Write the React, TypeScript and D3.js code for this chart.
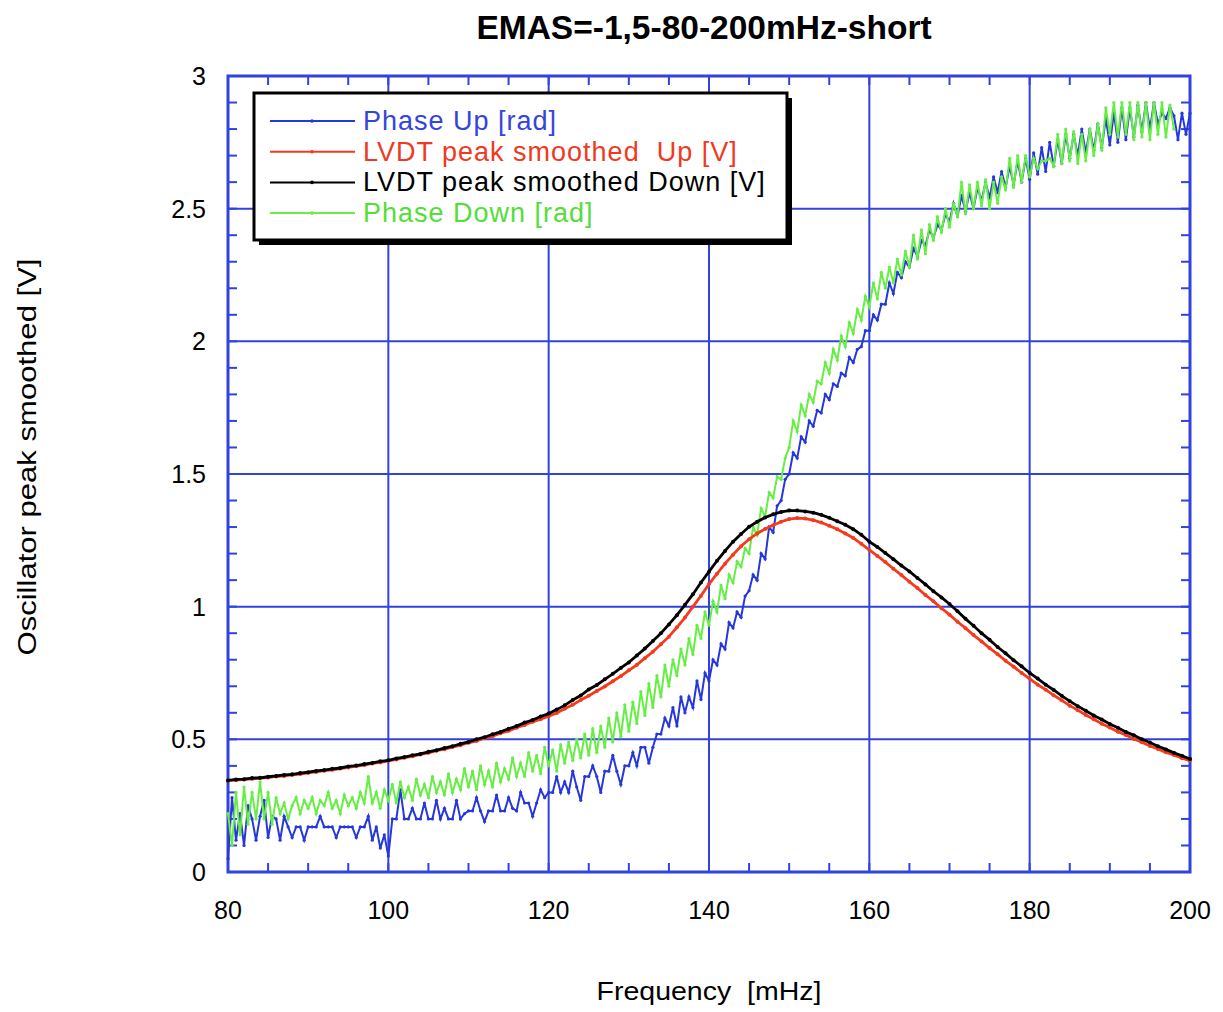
import React, { useRef, useEffect } from "react";
import * as d3 from "d3";

// frequencies for the LVDT curves (1 mHz step)
const lvdtFreq = d3.range(80, 200.01, 1);

const lvdtDown = [
  0.345, 0.349, 0.350, 0.354, 0.355, 0.359, 0.362, 0.366, 0.368, 0.373,
  0.376, 0.381, 0.384, 0.389, 0.392, 0.398, 0.401, 0.407, 0.411, 0.417,
  0.421, 0.428, 0.433, 0.440, 0.445, 0.453, 0.459, 0.467, 0.474, 0.483,
  0.490, 0.500, 0.508, 0.519, 0.528, 0.540, 0.550, 0.563, 0.573, 0.586,
  0.597, 0.612, 0.628, 0.648, 0.665, 0.688, 0.705, 0.726, 0.747, 0.769,
  0.790, 0.816, 0.842, 0.871, 0.900, 0.933, 0.968, 1.007, 1.047, 1.091,
  1.132, 1.173, 1.210, 1.245, 1.274, 1.301, 1.320, 1.336, 1.348, 1.357,
  1.362, 1.362, 1.359, 1.354, 1.346, 1.335, 1.322, 1.309, 1.292, 1.271,
  1.245, 1.225, 1.202, 1.179, 1.155, 1.133, 1.108, 1.084, 1.058, 1.035,
  1.010, 0.983, 0.954, 0.928, 0.900, 0.875, 0.848, 0.824, 0.798, 0.775,
  0.750, 0.729, 0.706, 0.686, 0.664, 0.644, 0.625, 0.608, 0.590, 0.575,
  0.558, 0.544, 0.528, 0.515, 0.500, 0.488, 0.474, 0.462, 0.449, 0.438,
  0.426,
];

const lvdtUp = [
  0.345, 0.346, 0.349, 0.351, 0.354, 0.356, 0.360, 0.362, 0.366, 0.369,
  0.374, 0.377, 0.382, 0.385, 0.390, 0.394, 0.399, 0.403, 0.409, 0.413,
  0.419, 0.424, 0.431, 0.436, 0.443, 0.449, 0.457, 0.463, 0.471, 0.478,
  0.487, 0.494, 0.504, 0.512, 0.523, 0.532, 0.544, 0.554, 0.566, 0.576,
  0.587, 0.599, 0.615, 0.630, 0.648, 0.664, 0.682, 0.699, 0.719, 0.738,
  0.760, 0.781, 0.806, 0.830, 0.858, 0.887, 0.922, 0.959, 1.000, 1.041,
  1.085, 1.124, 1.162, 1.196, 1.228, 1.254, 1.276, 1.293, 1.307, 1.320,
  1.330, 1.334, 1.332, 1.326, 1.317, 1.305, 1.292, 1.276, 1.259, 1.237,
  1.214, 1.191, 1.168, 1.143, 1.119, 1.094, 1.070, 1.044, 1.020, 0.994,
  0.970, 0.943, 0.919, 0.893, 0.869, 0.844, 0.821, 0.796, 0.774, 0.750,
  0.728, 0.706, 0.687, 0.666, 0.647, 0.627, 0.610, 0.592, 0.576, 0.559,
  0.545, 0.529, 0.516, 0.501, 0.489, 0.475, 0.464, 0.451, 0.441, 0.429,
  0.420,
];

// phase curves sampled every 0.5 mHz
const phaseUpFreq = d3.range(80, 200.01, 0.5);
const phaseUp = [
  0.05, 0.28, 0.12, 0.22, 0.10, 0.25, 0.20, 0.12, 0.21, 0.27,
  0.13, 0.21, 0.20, 0.12, 0.21, 0.17, 0.13, 0.17, 0.17, 0.12,
  0.17, 0.17, 0.17, 0.21, 0.17, 0.17, 0.17, 0.13, 0.17, 0.17,
  0.17, 0.17, 0.13, 0.17, 0.17, 0.21, 0.12, 0.17, 0.09, 0.14,
  0.06, 0.20, 0.20, 0.31, 0.20, 0.20, 0.24, 0.20, 0.20, 0.26,
  0.20, 0.20, 0.27, 0.20, 0.24, 0.20, 0.20, 0.27, 0.20, 0.22,
  0.23, 0.23, 0.28, 0.23, 0.19, 0.23, 0.23, 0.29, 0.23, 0.23,
  0.28, 0.24, 0.23, 0.30, 0.26, 0.26, 0.21, 0.26, 0.31, 0.28,
  0.30, 0.30, 0.36, 0.30, 0.34, 0.30, 0.38, 0.32, 0.27, 0.36,
  0.36, 0.40, 0.36, 0.30, 0.38, 0.38, 0.44, 0.38, 0.33, 0.40,
  0.40, 0.45, 0.40, 0.47, 0.47, 0.41, 0.47, 0.52, 0.52, 0.58,
  0.55, 0.62, 0.55, 0.66, 0.60, 0.66, 0.62, 0.72, 0.65, 0.75,
  0.72, 0.80, 0.78, 0.86, 0.84, 0.94, 0.92, 0.98, 0.96, 1.04,
  1.06, 1.12, 1.10, 1.20, 1.18, 1.30, 1.28, 1.38, 1.40, 1.48,
  1.50, 1.58, 1.56, 1.64, 1.62, 1.70, 1.68, 1.74, 1.73, 1.80,
  1.78, 1.84, 1.83, 1.88, 1.87, 1.94, 1.92, 1.97, 1.98, 2.04,
  2.04, 2.10, 2.08, 2.14, 2.14, 2.22, 2.18, 2.26, 2.24, 2.30,
  2.28, 2.35, 2.32, 2.38, 2.36, 2.42, 2.39, 2.44, 2.42, 2.48,
  2.45, 2.52, 2.47, 2.55, 2.49, 2.56, 2.50, 2.58, 2.53, 2.60,
  2.54, 2.62, 2.56, 2.64, 2.58, 2.66, 2.59, 2.68, 2.60, 2.69,
  2.61, 2.71, 2.63, 2.73, 2.64, 2.75, 2.66, 2.76, 2.67, 2.78,
  2.69, 2.78, 2.70, 2.80, 2.71, 2.80, 2.72, 2.82, 2.73, 2.84,
  2.74, 2.86, 2.75, 2.88, 2.76, 2.88, 2.77, 2.89, 2.79, 2.90,
  2.80, 2.90, 2.82, 2.86, 2.84, 2.88, 2.85, 2.76, 2.86, 2.78,
  2.86,
];

const phaseDownFreq = d3.range(80, 198.01, 0.5);
const phaseDown = [
  0.22, 0.10, 0.30, 0.14, 0.32, 0.18, 0.30, 0.20, 0.34, 0.20,
  0.30, 0.18, 0.28, 0.22, 0.26, 0.20, 0.25, 0.28, 0.22, 0.27,
  0.24, 0.28, 0.22, 0.27, 0.25, 0.30, 0.24, 0.27, 0.22, 0.29,
  0.25, 0.28, 0.24, 0.30, 0.26, 0.36, 0.26, 0.30, 0.24, 0.31,
  0.27, 0.33, 0.26, 0.34, 0.28, 0.32, 0.27, 0.35, 0.29, 0.33,
  0.28, 0.36, 0.30, 0.34, 0.29, 0.37, 0.30, 0.35, 0.31, 0.39,
  0.32, 0.38, 0.31, 0.40, 0.33, 0.38, 0.32, 0.41, 0.34, 0.39,
  0.35, 0.43, 0.36, 0.41, 0.36, 0.45, 0.38, 0.44, 0.37, 0.47,
  0.40, 0.46, 0.38, 0.48, 0.41, 0.49, 0.42, 0.50, 0.43, 0.52,
  0.44, 0.54, 0.45, 0.55, 0.47, 0.58, 0.49, 0.60, 0.51, 0.63,
  0.53, 0.64, 0.56, 0.68, 0.59, 0.71, 0.62, 0.74, 0.66, 0.78,
  0.70, 0.80, 0.74, 0.84, 0.78, 0.88, 0.82, 0.93, 0.88, 0.98,
  0.93, 1.02, 0.98, 1.08, 1.03, 1.12, 1.09, 1.17, 1.15, 1.22,
  1.20, 1.30, 1.27, 1.37, 1.34, 1.43, 1.41, 1.49, 1.48, 1.56,
  1.60, 1.70, 1.66, 1.76, 1.72, 1.80, 1.77, 1.85, 1.84, 1.92,
  1.88, 1.97, 1.93, 2.02, 1.98, 2.07, 2.03, 2.12, 2.08, 2.17,
  2.13, 2.22, 2.16, 2.26, 2.20, 2.28, 2.22, 2.31, 2.25, 2.34,
  2.28, 2.40, 2.31, 2.42, 2.33, 2.44, 2.38, 2.47, 2.41, 2.50,
  2.43, 2.52, 2.47, 2.60, 2.48, 2.59, 2.50, 2.60, 2.51, 2.61,
  2.50, 2.60, 2.52, 2.62, 2.57, 2.69, 2.58, 2.70, 2.60, 2.70,
  2.62, 2.69, 2.65, 2.68, 2.68, 2.69, 2.66, 2.78, 2.67, 2.80,
  2.68, 2.79, 2.67, 2.78, 2.68, 2.80, 2.70, 2.82, 2.72, 2.88,
  2.78, 2.90, 2.77, 2.90, 2.78, 2.90, 2.76, 2.90, 2.77, 2.90,
  2.76, 2.90, 2.78, 2.90, 2.77, 2.89, 2.80,
];

const xTicks = [80, 100, 120, 140, 160, 180, 200];
const yTicks = [0, 0.5, 1, 1.5, 2, 2.5, 3];

const seriesNames = [
  "Phase Up [rad]",
  "LVDT peak smoothed  Up [V]",
  "LVDT peak smoothed Down [V]",
  "Phase Down [rad]",
];

const AXIS_BLUE = "#3142de";
const FONT = "'Liberation Sans', Arial, Helvetica, sans-serif";

const App = () => {
  const svgRef = useRef(null);

  useEffect(() => {
    const svg = d3.select(svgRef.current);
    svg.selectAll("*").remove();

    const width = 1223;
    const height = 1012;
    const left = 228, right = 1190, top = 76, bottom = 872;

    const x = d3.scaleLinear().domain([80, 200]).range([left, right]);
    const y = d3.scaleLinear().domain([0, 3]).range([bottom, top]);

    svg.attr("width", width).attr("height", height);
    svg.append("rect").attr("width", width).attr("height", height).attr("fill", "white");

    // title
    svg.append("text")
      .attr("x", 704).attr("y", 39)
      .attr("text-anchor", "middle")
      .style("font-family", FONT).style("font-size", "33.5px").style("font-weight", "bold")
      .text("EMAS=-1,5-80-200mHz-short");

    const g = svg.append("g");

    // grid lines at major ticks
    g.selectAll(".gx").data(xTicks).enter().append("line")
      .attr("x1", d => x(d)).attr("x2", d => x(d))
      .attr("y1", top).attr("y2", bottom)
      .attr("stroke", AXIS_BLUE).attr("stroke-width", 2);
    g.selectAll(".gy").data(yTicks).enter().append("line")
      .attr("x1", left).attr("x2", right)
      .attr("y1", d => y(d)).attr("y2", d => y(d))
      .attr("stroke", AXIS_BLUE).attr("stroke-width", 2);

    // minor ticks, inward on all four sides
    const xMinor = d3.range(80, 200.01, 5);
    const yMinor = d3.range(0, 3.001, 0.1);
    const tl = 9;
    xMinor.forEach(v => {
      g.append("line").attr("x1", x(v)).attr("x2", x(v)).attr("y1", bottom).attr("y2", bottom - tl)
        .attr("stroke", AXIS_BLUE).attr("stroke-width", 2);
      g.append("line").attr("x1", x(v)).attr("x2", x(v)).attr("y1", top).attr("y2", top + tl)
        .attr("stroke", AXIS_BLUE).attr("stroke-width", 2);
    });
    yMinor.forEach(v => {
      g.append("line").attr("x1", left).attr("x2", left + tl).attr("y1", y(v)).attr("y2", y(v))
        .attr("stroke", AXIS_BLUE).attr("stroke-width", 2);
      g.append("line").attr("x1", right).attr("x2", right - tl).attr("y1", y(v)).attr("y2", y(v))
        .attr("stroke", AXIS_BLUE).attr("stroke-width", 2);
    });

    // frame
    g.append("rect")
      .attr("x", left).attr("y", top)
      .attr("width", right - left).attr("height", bottom - top)
      .attr("fill", "none").attr("stroke", AXIS_BLUE).attr("stroke-width", 3);

    // tick labels
    g.selectAll(".xl").data(xTicks).enter().append("text")
      .attr("x", d => x(d)).attr("y", bottom + 47)
      .attr("text-anchor", "middle")
      .style("font-family", FONT).style("font-size", "25px")
      .text(d => d);
    g.selectAll(".yl").data(yTicks).enter().append("text")
      .attr("x", left - 22).attr("y", d => y(d) + 9)
      .attr("text-anchor", "end")
      .style("font-family", FONT).style("font-size", "25px")
      .text(d => d);

    // axis titles
    svg.append("text")
      .attr("x", 709).attr("y", 1000)
      .attr("text-anchor", "middle")
      .attr("textLength", 225).attr("lengthAdjust", "spacingAndGlyphs")
      .style("font-family", FONT).style("font-size", "25px").style("white-space", "pre")
      .text("Frequency  [mHz]");
    svg.append("text")
      .attr("transform", "translate(36,457) rotate(-90)")
      .attr("text-anchor", "middle")
      .attr("textLength", 397).attr("lengthAdjust", "spacingAndGlyphs")
      .style("font-family", FONT).style("font-size", "25px")
      .text("Oscillator peak smoothed [V]");

    // data
    const line = d3.line().x(d => x(d[0])).y(d => y(d[1]));
    const plot = svg.append("g");

    const series = [
      { color: "#2638dc", w: 2, r: 1.6, pts: phaseUpFreq.map((f, i) => [f, phaseUp[i]]) },
      { color: "#66ee44", w: 2, r: 1.6, pts: phaseDownFreq.map((f, i) => [f, phaseDown[i]]) },
      { color: "#f53a1e", w: 2.8, r: 2, pts: lvdtFreq.map((f, i) => [f, lvdtUp[i]]) },
      { color: "#000000", w: 2.8, r: 2, pts: lvdtFreq.map((f, i) => [f, lvdtDown[i]]) },
    ];

    series.forEach(s => {
      plot.append("path")
        .datum(s.pts)
        .attr("d", line)
        .attr("fill", "none")
        .attr("stroke", s.color)
        .attr("stroke-width", s.w);
      plot.selectAll(null).data(s.pts).enter().append("circle")
        .attr("cx", d => x(d[0])).attr("cy", d => y(d[1]))
        .attr("r", s.r).attr("fill", s.color);
    });

    // legend
    const lg = svg.append("g");
    lg.append("rect").attr("x", 259).attr("y", 98).attr("width", 533).attr("height", 147).attr("fill", "black");
    lg.append("rect").attr("x", 254).attr("y", 93).attr("width", 533).attr("height", 147)
      .attr("fill", "white").attr("stroke", "black").attr("stroke-width", 3);

    const legendItems = [
      { name: seriesNames[0], color: "#2638dc", text: "#3445dd" },
      { name: seriesNames[1], color: "#f53a1e", text: "#ee3a22" },
      { name: seriesNames[2], color: "#000000", text: "#000000" },
      { name: seriesNames[3], color: "#66ee44", text: "#55dd3a" },
    ];
    legendItems.forEach((it, i) => {
      const yy = 121 + i * 30.7;
      lg.append("line").attr("x1", 270).attr("x2", 355).attr("y1", yy).attr("y2", yy)
        .attr("stroke", it.color).attr("stroke-width", 2);
      lg.append("circle").attr("cx", 312).attr("cy", yy).attr("r", 1.8).attr("fill", it.color);
      lg.append("text")
        .attr("x", 363).attr("y", yy + 9)
        .style("font-family", FONT).style("font-size", "27px")
        .style("letter-spacing", "1px").style("white-space", "pre")
        .attr("fill", it.text)
        .text(it.name);
    });
  }, []);

  return (
    <div style={{ position: "absolute", left: 0, top: 0 }}>
      <svg ref={svgRef} style={{ display: "block" }}></svg>
    </div>
  );
};

export default App;
